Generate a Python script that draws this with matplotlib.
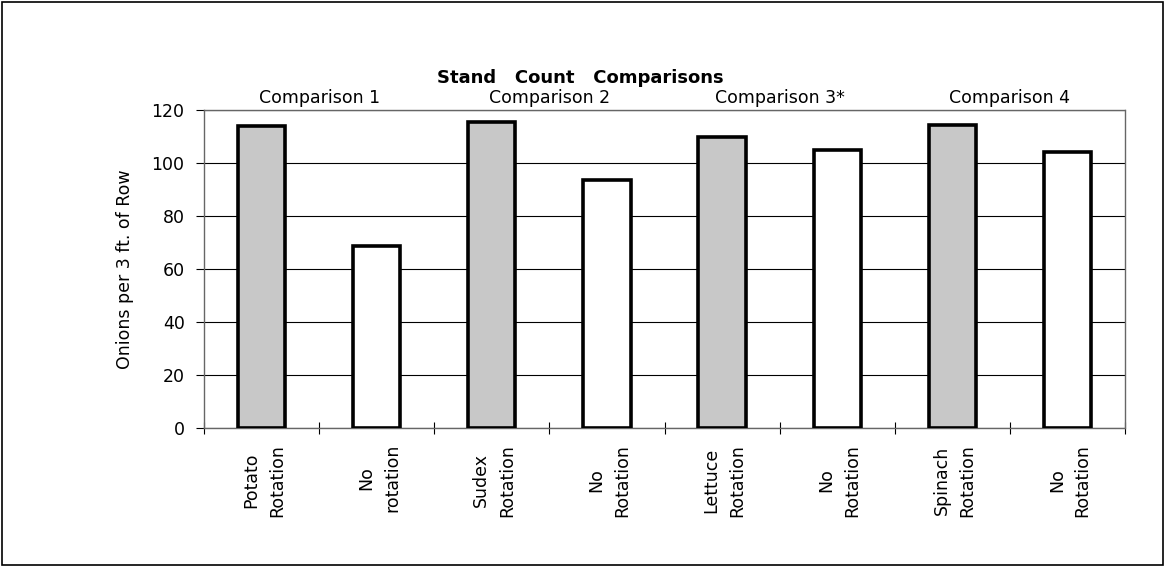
import numpy as np
import matplotlib
matplotlib.use("Agg")
import matplotlib.pyplot as plt
from matplotlib.patches import Rectangle

categories = ["Potato\nRotation", "No\nrotation", "Sudex\nRotation", "No\nRotation",
              "Lettuce\nRotation", "No\nRotation", "Spinach\nRotation", "No\nRotation"]
stand_count = [114, 68.5, 115.5, 93.5, 110, 105, 114.5, 104]
is_rotation = [True, False, True, False, True, False, True, False]
groups = ["Comparison 1", "Comparison 2", "Comparison 3*", "Comparison 4"]
yticks = [0, 20, 40, 60, 80, 100, 120]

fig = plt.figure(figsize=(11.68, 5.67), dpi=100)
ax = fig.add_axes([0.1747, 0.2451, 0.7885, 0.5609])

x = np.arange(len(categories))
colors = ["#c8c8c8" if r else "white" for r in is_rotation]
ax.bar(x, stand_count, width=0.41, color=colors, edgecolor="black",
       linewidth=2.6, zorder=3)

ax.set_xlim(-0.5, len(categories) - 0.5)
ax.set_ylim(0, 120)
ax.set_yticks(yticks)
ax.tick_params(axis="y", labelsize=12.5, length=6, direction="out", pad=8)
ax.yaxis.grid(True, color="black", linewidth=0.8, zorder=0)

# category labels at bar centres, ticks between bars
ax.set_xticks(np.arange(-0.5, len(categories)), minor=False)
ax.set_xticklabels([])
ax.tick_params(axis="x", length=8, direction="inout", width=0.8)
for i, lab in enumerate(categories):
    ax.text(i + 0.02, -6.0, lab, rotation=90, ha="center", va="top",
            multialignment="center", fontsize=12.5, linespacing=1.55)

for s in ax.spines.values():
    s.set_color("#666666")
    s.set_linestyle((0, (1, 1)))
    s.set_linewidth(1.0)

for g, name in enumerate(groups):
    ax.text(2 * g + 0.5, 121.3, name, ha="center", va="bottom", fontsize=12.5)

ax.set_ylabel("Onions per 3 ft. of Row", fontsize=12.5, labelpad=13)
fig.text(0.497, 0.862, "Stand   Count   Comparisons", ha="center", va="center",
         fontsize=13, fontweight="bold")

fig.patches.append(Rectangle((0.002, 0.003), 0.994, 0.994, transform=fig.transFigure,
                             fill=False, edgecolor="black", linewidth=1.2))

fig.savefig("out.png", dpi=100)
